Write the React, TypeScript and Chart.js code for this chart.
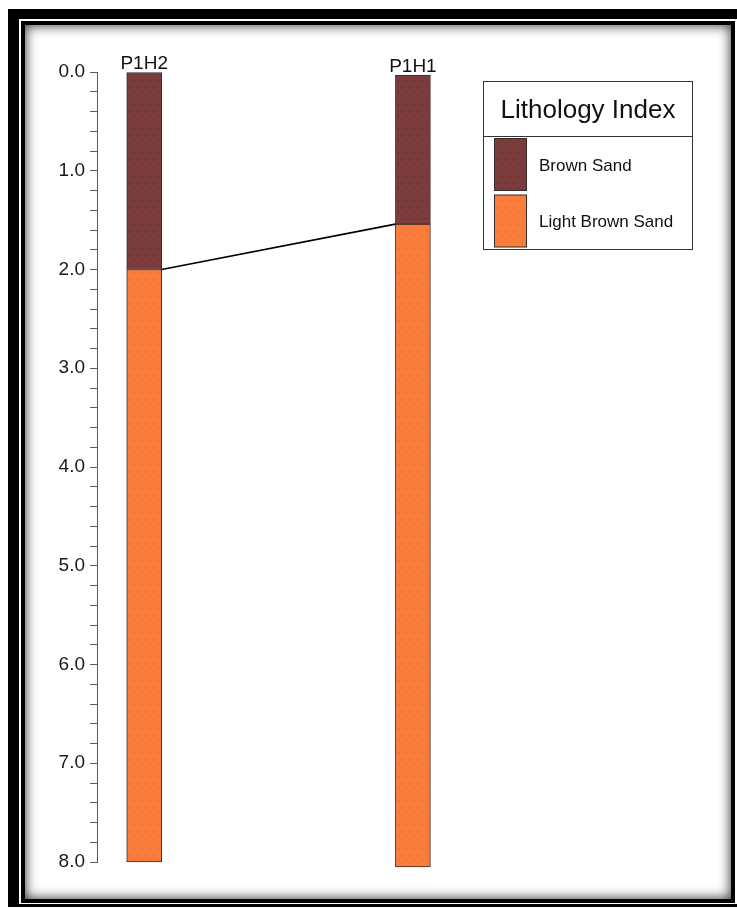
import { useEffect, useRef } from 'react';
import { Chart, registerables } from 'chart.js';

Chart.register(...registerables);

// Borehole columns (depth in m, increasing downward)
const wells = ['P1H2', 'P1H1'];
const wellPositions = [1, 2];
const wellTops = [0.0, 0.03];
const brownSandBase = [2.0, 1.54];
const wellBottoms = [8.0, 8.05];

// Lithology legend
const lithologyNames = ['Brown Sand', 'Light Brown Sand'];
const lithologyColors = ['#7D3C3C', '#FC7C3A'];
const lithologyDots = ['#4A2020', '#C4602E'];
const legendTitle = 'Lithology Index';

// Depth axis
const depthMin = 0;
const depthMax = 8;
const depthStep = 0.2;

const FONT = '"Liberation Sans", Arial, sans-serif';

// Sparse staggered dot fill used for sand lithologies
function dotPattern(base: string, dot: string): CanvasPattern | string {
  const c = document.createElement('canvas');
  c.width = 8;
  c.height = 12;
  const g = c.getContext('2d');
  if (!g) return base;
  g.fillStyle = base;
  g.fillRect(0, 0, 8, 12);
  g.fillStyle = dot;
  g.fillRect(2, 2, 1, 1);
  g.fillRect(6, 8, 1, 1);
  return g.createPattern(c, 'repeat') || base;
}

const wellAnnotations = {
  id: 'wellAnnotations',
  afterDatasetsDraw(chart: any) {
    const ctx = chart.ctx as CanvasRenderingContext2D;
    const y = chart.scales.y;
    const bars = chart.getDatasetMeta(0).data;
    ctx.save();
    // correlation line between lithology contacts
    ctx.strokeStyle = '#000';
    ctx.lineWidth = 1.7;
    ctx.beginPath();
    for (let i = 0; i < wells.length - 1; i++) {
      const a = bars[i];
      const b = bars[i + 1];
      ctx.moveTo(a.x + a.width / 2, y.getPixelForValue(brownSandBase[i]));
      ctx.lineTo(b.x - b.width / 2, y.getPixelForValue(brownSandBase[i + 1]));
    }
    ctx.stroke();
    // well names above each column
    ctx.fillStyle = '#111';
    ctx.font = `19px ${FONT}`;
    ctx.textAlign = 'center';
    ctx.textBaseline = 'alphabetic';
    wells.forEach((w, i) => {
      ctx.fillText(w, bars[i].x, y.getPixelForValue(wellTops[i]) - 3);
    });
    ctx.restore();
  },
  afterDraw(chart: any) {
    const ctx = chart.ctx as CanvasRenderingContext2D;
    const bx = 483.5;
    const by = 81.5;
    const bw = 209;
    const bh = 168;
    const titleH = 55;
    ctx.save();
    ctx.fillStyle = '#fff';
    ctx.fillRect(bx, by, bw, bh);
    ctx.strokeStyle = '#333';
    ctx.lineWidth = 1;
    ctx.strokeRect(bx, by, bw, bh);
    ctx.beginPath();
    ctx.moveTo(bx, by + titleH);
    ctx.lineTo(bx + bw, by + titleH);
    ctx.stroke();

    ctx.fillStyle = '#111';
    ctx.font = `26px ${FONT}`;
    ctx.textAlign = 'center';
    ctx.textBaseline = 'alphabetic';
    ctx.fillText(legendTitle, bx + bw / 2, 118);

    ctx.font = `17px ${FONT}`;
    ctx.textAlign = 'left';
    lithologyNames.forEach((name, i) => {
      const sx = 494.5;
      const sy = 138.5 + i * 56.5;
      ctx.fillStyle = chart.data.datasets[i].backgroundColor;
      ctx.fillRect(sx, sy, 32, 52);
      ctx.strokeStyle = '#3a2a2a';
      ctx.strokeRect(sx, sy, 32, 52);
      ctx.fillStyle = '#111';
      ctx.fillText(name, 539, sy + 32);
    });
    ctx.restore();
  },
};

export default function App() {
  const canvasRef = useRef<HTMLCanvasElement | null>(null);

  useEffect(() => {
    const canvas = canvasRef.current;
    if (!canvas) return;
    const fills = lithologyColors.map((c, i) => dotPattern(c, lithologyDots[i]));

    const chart = new Chart(canvas, {
      type: 'bar',
      data: {
        datasets: [
          {
            label: lithologyNames[0],
            data: wells.map((_, i) => ({ x: wellPositions[i], y: [wellTops[i], brownSandBase[i]] })) as any,
            backgroundColor: fills[0] as any,
            borderColor: '#3f2b2b',
            borderWidth: 1,
            borderSkipped: false,
            barThickness: 35,
            grouped: false,
            clip: false as any,
          },
          {
            label: lithologyNames[1],
            data: wells.map((_, i) => ({ x: wellPositions[i], y: [brownSandBase[i], wellBottoms[i]] })) as any,
            backgroundColor: fills[1] as any,
            borderColor: '#3f2b2b',
            borderWidth: 1,
            borderSkipped: false,
            barThickness: 35,
            grouped: false,
            clip: false as any,
          },
        ],
      },
      options: {
        responsive: false,
        animation: false,
        events: [],
        layout: { padding: { left: 0, top: 72, bottom: 47, right: 55.4 } },
        plugins: { legend: { display: false }, tooltip: { enabled: false } },
        scales: {
          x: {
            type: 'linear',
            display: false,
            offset: false,
            min: 0.8243,
            max: 3,
          },
          y: {
            type: 'linear',
            reverse: true,
            min: depthMin,
            max: depthMax,
            afterFit(scale: any) {
              scale.width = 97;
            },
            border: { display: true, color: '#5a5a5a', width: 1 },
            grid: {
              display: true,
              drawOnChartArea: false,
              drawTicks: true,
              tickLength: 7,
              color: '#5a5a5a',
              lineWidth: 1,
            },
            ticks: {
              stepSize: depthStep,
              autoSkip: false,
              padding: 5,
              color: '#1a1a1a',
              font: { family: FONT, size: 19 },
              callback: (value: any) => {
                const v = Number(value);
                return Math.abs(v - Math.round(v)) < 1e-6 ? v.toFixed(1) : '';
              },
            },
          },
        },
      },
      plugins: [wellAnnotations],
    });

    return () => chart.destroy();
  }, []);

  return (
    <div style={{ position: 'absolute', left: 0, top: 0, width: 737, height: 909, overflow: 'hidden', background: '#fff' }}>
      <div
        style={{
          position: 'absolute',
          left: 8,
          top: 9,
          width: 750,
          height: 898,
          boxSizing: 'border-box',
          borderLeft: '11px solid #000',
          borderTop: '10px solid #000',
          borderRight: '11px solid #000',
          borderBottom: '3px solid #000',
          background: '#fff',
        }}
      />
      <div
        style={{
          position: 'absolute',
          left: 21,
          top: 21,
          width: 714,
          height: 882,
          boxSizing: 'border-box',
          border: '4px solid #000',
          background: '#fff',
          boxShadow: 'inset 0 0 12px 1px rgba(0,0,0,0.75)',
        }}
      />
      <canvas
        ref={canvasRef}
        width={737}
        height={909}
        style={{ position: 'absolute', left: 0, top: 0, width: 737, height: 909 }}
      />
    </div>
  );
}
